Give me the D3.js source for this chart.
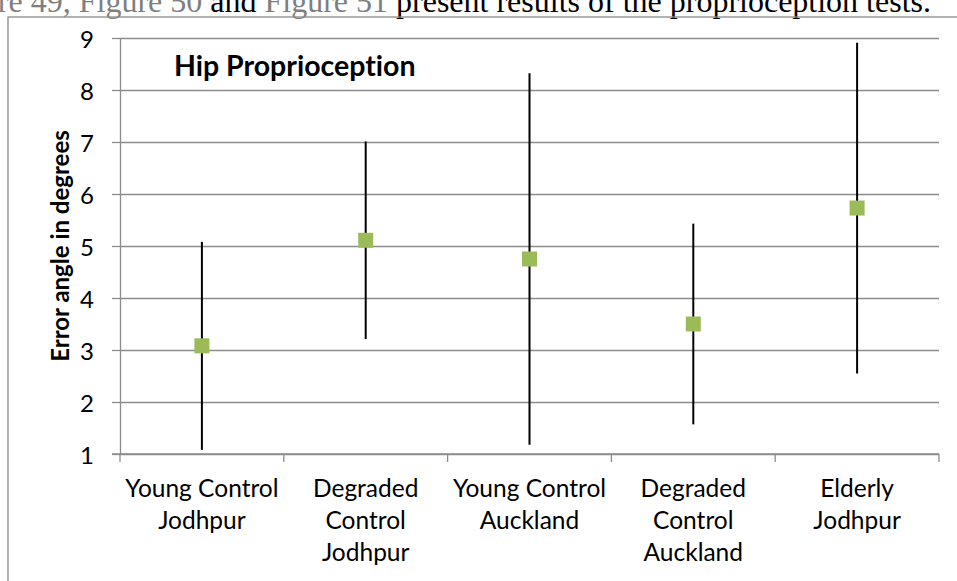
<!DOCTYPE html>
<html>
<head>
<meta charset="utf-8">
<script src="https://cdn.jsdelivr.net/npm/d3@7"></script>
<style>
  html, body { margin: 0; padding: 0; background: #fff; }
  svg { display: block; }
  text { font-variant-ligatures: none; }
  .sans { font-family: Lato, "Noto Sans", sans-serif; }
</style>
</head>
<body>
<svg id="chart" width="957" height="581"></svg>
<script>
// Hip proprioception: mean error angle with ±1 SD bars per group
const categories = [
  "Young Control Jodhpur",
  "Degraded Control Jodhpur",
  "Young Control Auckland",
  "Degraded Control Auckland",
  "Elderly Jodhpur"
];
const categoryLines = [
  ["Young Control", "Jodhpur"],
  ["Degraded", "Control", "Jodhpur"],
  ["Young Control", "Auckland"],
  ["Degraded", "Control", "Auckland"],
  ["Elderly", "Jodhpur"]
];
const meanError = [3.08, 5.11, 4.75, 3.50, 5.73];
const sdError = [2.00, 1.90, 3.57, 1.93, 3.18];
const yTicks = [1, 2, 3, 4, 5, 6, 7, 8, 9];

const svg = d3.select("#chart");
const W = 957, H = 581;
const plot = { left: 120, right: 939, top: 38, bottom: 454 };

svg.append("rect").attr("width", W).attr("height", H).attr("fill", "#fff");

// running text of the page above the figure
const para = svg.append("text")
  .attr("x", 931).attr("y", 12)
  .attr("text-anchor", "end")
  .style("font-family", '"Liberation Serif", "Times New Roman", serif')
  .style("font-size", "32px");
para.append("tspan").attr("fill", "#7f7f7f").text("Figure 49, Figure 50");
para.append("tspan").attr("fill", "#000").text(" and ");
para.append("tspan").attr("fill", "#7f7f7f").text("Figure 51");
para.append("tspan").attr("fill", "#000").text(" present results of the proprioception tests.");

// chart area border
svg.append("rect")
  .attr("x", 8).attr("y", 17)
  .attr("width", 1200).attr("height", 1200)
  .attr("fill", "none")
  .attr("stroke", "#8a8a8a")
  .attr("stroke-width", 1.3);

const x = d3.scaleBand()
  .domain(categories)
  .range([plot.left, plot.right])
  .paddingInner(0).paddingOuter(0);

const y = d3.scaleLinear()
  .domain([1, 9])
  .range([plot.bottom, plot.top]);

const gridColor = "#8c8c8c";

// horizontal gridlines
const grid = svg.append("g")
  .attr("transform", `translate(${plot.left},0)`)
  .call(d3.axisLeft(y).tickValues(yTicks)
    .tickSize(-(plot.right - plot.left)).tickFormat(""));
grid.select(".domain").remove();
grid.selectAll(".tick line").attr("stroke", gridColor).attr("stroke-width", 1.3);

// y axis with labels
const yAxis = svg.append("g")
  .attr("transform", `translate(${plot.left},0)`)
  .call(d3.axisLeft(y).tickValues(yTicks).tickSize(8).tickSizeOuter(0).tickPadding(18)
    .tickFormat(d3.format("d")));
yAxis.select(".domain").attr("stroke", gridColor).attr("stroke-width", 1.3);
yAxis.selectAll(".tick line").attr("stroke", gridColor).attr("stroke-width", 1.3);
yAxis.selectAll(".tick text")
  .attr("class", "sans")
  .style("font-size", "24px")
  .attr("fill", "#000")
  .attr("dy", "0.4em");

// x axis line and category boundary ticks
const boundaries = categories.map(c => x(c)).concat([plot.right]);
svg.append("line")
  .attr("x1", plot.left - 8).attr("x2", plot.right)
  .attr("y1", y(1)).attr("y2", y(1))
  .attr("stroke", gridColor).attr("stroke-width", 1.3);
svg.append("g").selectAll("line")
  .data(boundaries)
  .join("line")
  .attr("x1", d => d).attr("x2", d => d)
  .attr("y1", y(1)).attr("y2", y(1) + 8)
  .attr("stroke", gridColor).attr("stroke-width", 1.3);

// category labels (wrapped)
const labels = svg.append("g").attr("class", "sans")
  .style("font-size", "24.5px").attr("fill", "#000");
categories.forEach((c, i) => {
  const t = labels.append("text")
    .attr("text-anchor", "middle")
    .attr("x", x(c) + x.bandwidth() / 2)
    .attr("y", 497);
  categoryLines[i].forEach((line, j) => {
    t.append("tspan")
      .attr("x", x(c) + x.bandwidth() / 2)
      .attr("dy", j === 0 ? 0 : 32)
      .text(line);
  });
});

// y axis title
svg.append("text")
  .attr("class", "sans")
  .attr("transform", `translate(69,${(plot.top + plot.bottom) / 2}) rotate(-90)`)
  .attr("text-anchor", "middle")
  .style("font-size", "24px")
  .style("font-weight", "bold")
  .text("Error angle in degrees");

// chart title
svg.append("text")
  .attr("class", "sans")
  .attr("x", 174).attr("y", 76)
  .style("font-size", "28.5px")
  .style("font-weight", "bold")
  .text("Hip Proprioception");

// error bars
const points = categories.map((c, i) => ({ c, m: meanError[i], s: sdError[i] }));
svg.append("g").selectAll("line")
  .data(points)
  .join("line")
  .attr("x1", d => x(d.c) + x.bandwidth() / 2)
  .attr("x2", d => x(d.c) + x.bandwidth() / 2)
  .attr("y1", d => y(d.m - d.s))
  .attr("y2", d => y(d.m + d.s))
  .attr("stroke", "#000")
  .attr("stroke-width", 2);

// mean markers
const ms = 15;
svg.append("g").selectAll("rect")
  .data(points)
  .join("rect")
  .attr("x", d => x(d.c) + x.bandwidth() / 2 - ms / 2)
  .attr("y", d => y(d.m) - ms / 2)
  .attr("width", ms).attr("height", ms)
  .attr("fill", "#9bbb59");
</script>
</body>
</html>
